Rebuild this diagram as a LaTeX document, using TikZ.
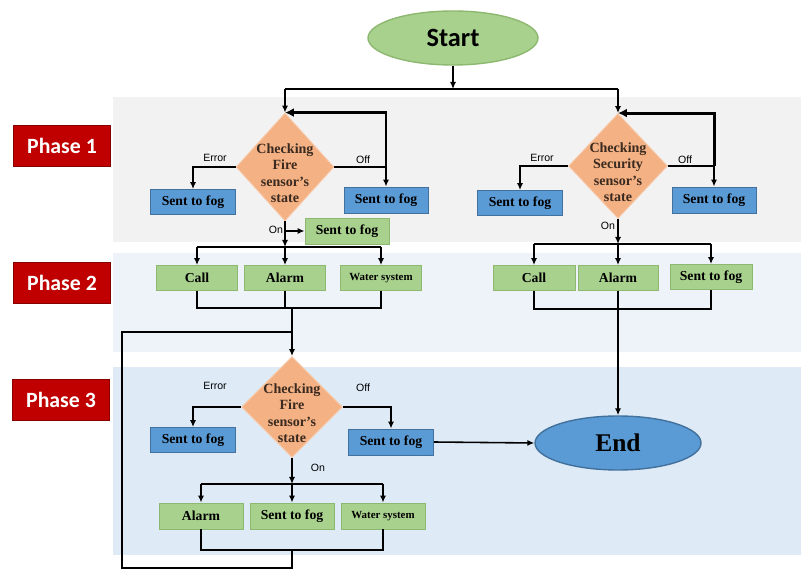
\documentclass[tikz,border=0pt]{standalone}
\usepackage{fontspec}
\setmainfont{Liberation Serif}
\newfontfamily\calfont{Carlito}
\newfontfamily\arialfont{Liberation Sans}
\usetikzlibrary{shapes.geometric,arrows.meta}
\definecolor{bandA}{HTML}{F2F2F2}
\definecolor{bandB}{HTML}{EEF3FA}
\definecolor{bandC}{HTML}{DEEBF7}
\definecolor{bluefill}{HTML}{5B9BD5}
\definecolor{blueedge}{HTML}{41719C}
\definecolor{greenfill}{HTML}{A9D18E}
\definecolor{greenedge}{HTML}{8DB870}
\definecolor{orangefill}{HTML}{F4B183}
\definecolor{orangeedge}{HTML}{F8CBAD}
\definecolor{phasered}{HTML}{C00000}
\definecolor{dtextcol}{HTML}{3A2A20}
\tikzset{
 bluebox/.style={rectangle, fill=bluefill, draw=blueedge, line width=0.5pt, minimum width=1.7cm, minimum height=0.5cm, inner sep=0pt, font=\fontsize{7.8}{9}\selectfont\bfseries},
 greenbox/.style={rectangle, fill=greenfill, draw=greenedge, line width=0.5pt, minimum width=1.62cm, minimum height=0.5cm, inner sep=0pt, font=\fontsize{7.8}{9}\selectfont\bfseries},
 smalltext/.style={font=\fontsize{6.2}{7}\selectfont\bfseries},
 decision/.style={diamond, fill=orangefill, draw=orangeedge, line width=0.5pt, inner sep=0pt},
 dtext/.style={align=center, inner sep=0pt, yshift=-0.12cm, font=\fontsize{8}{9.4}\selectfont\bfseries, text=dtextcol},
 phasebox/.style={rectangle, fill=phasered, draw=phasered!70!black, line width=0.4pt, minimum width=1.95cm, minimum height=0.82cm, inner sep=0pt, text=white, font=\calfont\fontsize{12.4}{14}\selectfont\bfseries},
 lbl/.style={font=\arialfont\fontsize{6}{7}\selectfont, inner sep=0pt},
 conn/.style={draw=black, line width=0.9pt},
 arr/.style={conn, -{Latex[length=4pt,width=3.5pt]}},
 thickarr/.style={draw=black, line width=1.7pt, -{Latex[length=5pt,width=5pt]}},
 terminal/.style={ellipse, line width=0.8pt, minimum width=3.4cm, minimum height=1.08cm, inner sep=0pt},
}
\begin{document}
\begin{tikzpicture}[x=0.02cm,y=-0.02cm]
\useasboundingbox (0,0) rectangle (801,570);
\fill[white] (0,0) rectangle (801,570);
\fill[bandA] (113,97) rectangle (801,242);
\fill[bandB] (113,253) rectangle (801,352);
\fill[bandC] (113,367) rectangle (801,555);

% phase labels
\node[phasebox] (p1) at (62,146) {Phase 1};
\node[phasebox] (p2) at (62,283) {Phase 2};
\node[phasebox] (p3) at (61,400) {Phase 3};

% start
\node[terminal, fill=greenfill, draw=greenedge, font=\calfont\fontsize{15}{17}\selectfont\bfseries] (start) at (453,38) {Start};
\coordinate (split0) at (453,89);

% Phase 1 left
\node[decision, minimum width=1.96cm, minimum height=2.16cm] (d1) at (285,167) {};
\node[dtext] (d1t) at (d1.center) {Checking\\Fire\\sensor’s\\state};
\node[bluebox] (err1) at (193,202) {Sent to fog};
\node[bluebox, minimum width=1.68cm, minimum height=0.52cm] (off1) at (386,200) {Sent to fog};
\node[greenbox, minimum width=1.68cm, minimum height=0.52cm] (f1on) at (347,231) {Sent to fog};

% Phase 1 right
\node[decision, minimum width=1.98cm, minimum height=2.1cm] (d2) at (618,166) {};
\node[dtext] (d2t) at (d2.center) {Checking\\Security\\sensor’s\\state};
\node[bluebox] (err2) at (520,203) {Sent to fog};
\node[bluebox, minimum width=1.68cm, minimum height=0.52cm] (off2) at (714,200) {Sent to fog};

% Phase 2 left
\coordinate (s1) at (285,247);
\node[greenbox] (call1) at (197,278) {Call};
\node[greenbox] (alarm1) at (285,278) {Alarm};
\node[greenbox, smalltext] (water1) at (381,278) {Water system};
\coordinate (j1) at (292,308);

% Phase 2 right
\coordinate (s2) at (618,244);
\node[greenbox, minimum width=1.64cm] (call2) at (534,278) {Call};
\node[greenbox, minimum width=1.6cm] (alarm2) at (618,278) {Alarm};
\node[greenbox, minimum width=1.64cm] (fog2) at (711,277) {Sent to fog};
\coordinate (j2) at (618,309);

% Phase 3
\node[decision, minimum width=2.02cm, minimum height=2.02cm] (d3) at (292,407) {};
\node[dtext] (d3t) at (d3.center) {Checking\\Fire\\sensor’s\\state};
\node[bluebox] (err3) at (193,440) {Sent to fog};
\node[bluebox, minimum height=0.52cm] (off3) at (391,442) {Sent to fog};
\coordinate (s3) at (292,484);
\node[greenbox, minimum width=1.68cm, minimum height=0.52cm] (alarm3) at (201,516) {Alarm};
\node[greenbox, minimum width=1.68cm, minimum height=0.52cm] (fog3) at (292,516) {Sent to fog};
\node[greenbox, smalltext, minimum width=1.68cm, minimum height=0.52cm] (water3) at (383,516) {Water system};
\coordinate (j3) at (292,550);
\coordinate (lb) at (122,568);
\coordinate (lt) at (122,332);

% end
\node[terminal, fill=bluefill, draw=blueedge, minimum width=3.32cm, font=\fontsize{14.5}{16}\selectfont\bfseries] (end) at (618,443) {End};

% branch labels
\node[lbl] (le1) at (215,158) {Error};
\node[lbl] (lo1) at (363,160) {Off};
\node[lbl] (ln1) at (276,230) {On};
\node[lbl] (le2) at (542,158) {Error};
\node[lbl] (lo2) at (685,160) {Off};
\node[lbl] (ln2) at (608,226) {On};
\node[lbl] (le3) at (215,386) {Error};
\node[lbl] (lo3) at (363,388) {Off};
\node[lbl] (ln3) at (318,468) {On};

% connectors: start
\draw[arr] (start.south) -- (split0);
\draw[conn] (d1.north |- split0) -- (d2.north |- split0);
\draw[arr] (d1.north |- split0) -- (d1.north);
\draw[arr] (d2.north |- split0) -- (d2.north);

% phase 1 left
\draw[arr] (d1.west) -| (err1.north);
\draw[arr] (d1.east) -| (off1.north);
\draw[thickarr] (d1.east -| off1.north) |- (d1.north);
\draw[arr] (d1.south) -- (s1);
\draw[arr] (d1.south |- f1on.west) -- (f1on.west);

% phase 1 right
\draw[arr] (d2.west) -| (err2.north);
\draw[arr] (d2.east) -| (off2.north);
\draw[thickarr] (d2.east -| off2.north) |- (d2.north);
\draw[arr] (d2.south) -- (s2);

% phase 2 left
\draw[conn] (call1.north |- s1) -- (water1.north |- s1);
\draw[arr] (call1.north |- s1) -- (call1.north);
\draw[arr] (alarm1.north |- s1) -- (alarm1.north);
\draw[arr] (water1.north |- s1) -- (water1.north);
\draw[conn] (call1.south) |- (j1) -| (water1.south);
\draw[conn] (alarm1.south) -- (alarm1.south |- j1);
\draw[arr] (j1) -- (d3.north);

% phase 2 right
\draw[conn] (call2.north |- s2) -- (fog2.north |- s2);
\draw[arr] (call2.north |- s2) -- (call2.north);
\draw[arr] (alarm2.north |- s2) -- (alarm2.north);
\draw[arr] (fog2.north |- s2) -- (fog2.north);
\draw[conn] (call2.south) |- (j2) -| (fog2.south);
\draw[arr] (alarm2.south) -- (end.north);

% phase 3
\draw[arr] (d3.west) -| (err3.north);
\draw[arr] (d3.east) -| (off3.north);
\draw[arr] (d3.south) -- (s3);
\draw[conn] (alarm3.north |- s3) -- (water3.north |- s3);
\draw[arr] (alarm3.north |- s3) -- (alarm3.north);
\draw[arr] (fog3.north |- s3) -- (fog3.north);
\draw[arr] (water3.north |- s3) -- (water3.north);
\draw[conn] (alarm3.south) |- (j3) -| (water3.south);
\draw[conn] (j3) |- (lb) -- (lt) -- (lt -| j1);
\draw[arr] (off3.east) -- (end.west);
\end{tikzpicture}
\end{document}
